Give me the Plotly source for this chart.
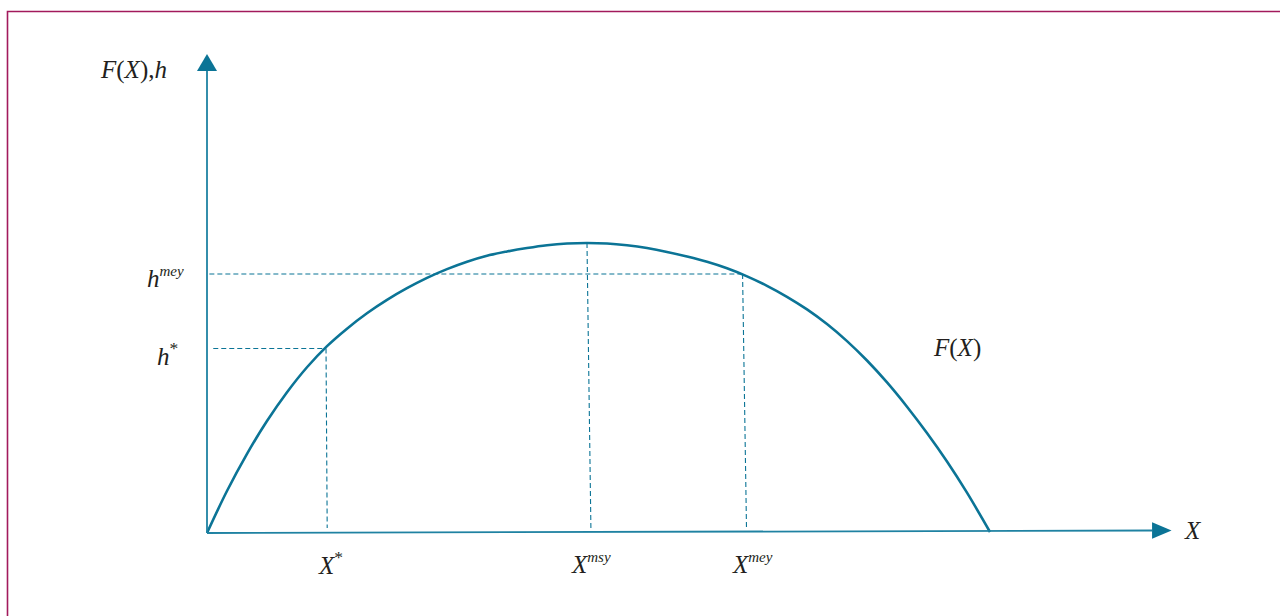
import plotly.graph_objects as go

# ---------------- data (model units) ----------------
stock_X = [0, 2.55, 5.11, 7.66, 10.22, 12.77, 15.33, 17.88, 20.43, 22.99, 25.54,
           28.10, 30.65, 33.21, 35.76, 38.31, 40.87, 43.42, 45.98, 48.53,
           51.09, 53.64, 56.19, 58.75, 61.30, 63.86, 66.41, 68.97, 71.52, 74.07,
           76.63, 79.18, 81.74, 84.29, 86.85, 89.40, 91.95, 94.51, 97.06, 100.0]
growth_F = [0, 5.36, 10.11, 14.30, 17.98, 21.17, 23.87, 26.10, 28.06, 29.77, 31.26,
            32.58, 33.70, 34.65, 35.41, 35.95, 36.40, 36.76, 36.97, 37.04,
            36.97, 36.74, 36.39, 35.90, 35.31, 34.64, 33.81, 32.78, 31.57, 30.17,
            28.56, 26.69, 24.51, 22.03, 19.23, 16.13, 12.77, 9.13, 5.15, 0.13]

X_star, h_star = 15.2, 23.56
X_msy, F_msy = 48.53, 37.04
X_mey, h_mey = 68.4, 33.08

x_axis_end = 120.7      # where the X-axis arrowhead starts
x_axis_rise = 0.32      # slight rise of the drawn X axis at its end
y_axis_end = 59.0       # where the vertical arrowhead starts

# ---------------- styling ----------------
W, H = 1280, 616
ORIGIN = (207, 533)     # pixel position of the origin
S = 7.83                # pixels per unit
TEAL = "#0b7496"
AXIS = "#1f82a2"
TXT = "#231f20"
BORDER = "#a21a5c"
FONT = "Liberation Serif"

fig = go.Figure()

# growth curve
fig.add_trace(go.Scatter(x=stock_X, y=growth_F, mode="lines",
                         line=dict(color=TEAL, width=2.6, shape="spline", smoothing=1.0),
                         hoverinfo="skip", showlegend=False))

shapes = []
# axes
shapes.append(dict(type="line", xref="x", yref="y", x0=0, y0=0, x1=x_axis_end, y1=x_axis_rise,
                   line=dict(color=AXIS, width=1.8)))
shapes.append(dict(type="line", xref="x", yref="y", x0=0, y0=0, x1=0, y1=y_axis_end,
                   line=dict(color=AXIS, width=1.8)))
# arrowheads (sizes in px converted to units)
ax_len, ax_half = 19.5 / S, 8.3 / S
shapes.append(dict(type="path", xref="x", yref="y",
                   path=f"M {x_axis_end},{x_axis_rise - ax_half} L {x_axis_end + ax_len},{x_axis_rise} "
                        f"L {x_axis_end},{x_axis_rise + ax_half} Z",
                   fillcolor=TEAL, line=dict(color=TEAL, width=0)))
ay_len, ay_half = 17 / S, 10 / S
shapes.append(dict(type="path", xref="x", yref="y",
                   path=f"M {-ay_half},{y_axis_end} L 0,{y_axis_end + ay_len} L {ay_half},{y_axis_end} Z",
                   fillcolor=TEAL, line=dict(color=TEAL, width=0)))

# dashed guide lines
dash = dict(color=TEAL, width=1.1, dash="5px,3px")
lean = 0.5
bottom = 0.65
shapes.append(dict(type="line", xref="x", yref="y", x0=0.3, y0=h_mey, x1=X_mey, y1=h_mey, line=dash))
shapes.append(dict(type="line", xref="x", yref="y", x0=0.8, y0=h_star, x1=X_star, y1=h_star, line=dash))
shapes.append(dict(type="line", xref="x", yref="y", x0=X_star, y0=h_star, x1=X_star + 0.15, y1=bottom, line=dash))
shapes.append(dict(type="line", xref="x", yref="y", x0=X_msy, y0=F_msy, x1=X_msy + lean, y1=bottom, line=dash))
shapes.append(dict(type="line", xref="x", yref="y", x0=X_mey, y0=h_mey, x1=X_mey + lean, y1=bottom, line=dash))

# frame border (left and top edges only are inside the picture)
bx, by = 7.5 / W, 1 - 11.5 / H
shapes.append(dict(type="path", xref="paper", yref="paper",
                   path=f"M {bx},-0.05 L {bx},{by} L 1.05,{by}",
                   line=dict(color=BORDER, width=1.6), fillcolor="rgba(0,0,0,0)"))

fnt = dict(family=FONT, size=25, color=TXT)
ann = []
def lab(text, x, y, xs=0, ys=0, xa="center", ya="middle"):
    ann.append(dict(text=text, x=x, y=y, xref="x", yref="y", xshift=xs, yshift=ys,
                    xanchor=xa, yanchor=ya, showarrow=False, font=fnt))

def sup(t):
    return f'<sup><span style="font-size:15px"><i>{t}</i></span></sup>'

lab("<i>F</i>(<i>X</i>),<i>h</i>", 0, y_axis_end + ay_len, xs=-74, ys=-16)
lab("<i>h</i>" + sup("mey"), 0, h_mey, xs=-21, ys=-4, xa="right")
lab("<i>h</i><sup>*</sup>", 0, h_star, xs=-27, ys=-5, xa="right")
lab("<i>X</i><sup>*</sup>", X_star, 0, xs=4, ys=-30)
lab("<i>X</i>" + sup("msy"), X_msy, 0, xs=4, ys=-30)
lab("<i>X</i>" + sup("mey"), X_mey, 0, xs=10, ys=-30)
lab("<i>F</i>(<i>X</i>)", 95.8, 23.6)
lab("<i>X</i>", x_axis_end + ax_len, x_axis_rise, xs=10, ys=0, xa="left")

fig.update_layout(
    width=W, height=H, autosize=False,
    margin=dict(l=0, r=0, t=0, b=0),
    paper_bgcolor="white", plot_bgcolor="white",
    xaxis=dict(range=[-ORIGIN[0] / S, (W - ORIGIN[0]) / S], visible=False, fixedrange=True),
    yaxis=dict(range=[(ORIGIN[1] - H) / S, ORIGIN[1] / S], visible=False, fixedrange=True),
    shapes=shapes, annotations=ann, showlegend=False,
)

fig.write_html("out.html", config=dict(displayModeBar=False),
               post_script="document.body.style.margin='0';document.body.style.overflow='hidden';")
